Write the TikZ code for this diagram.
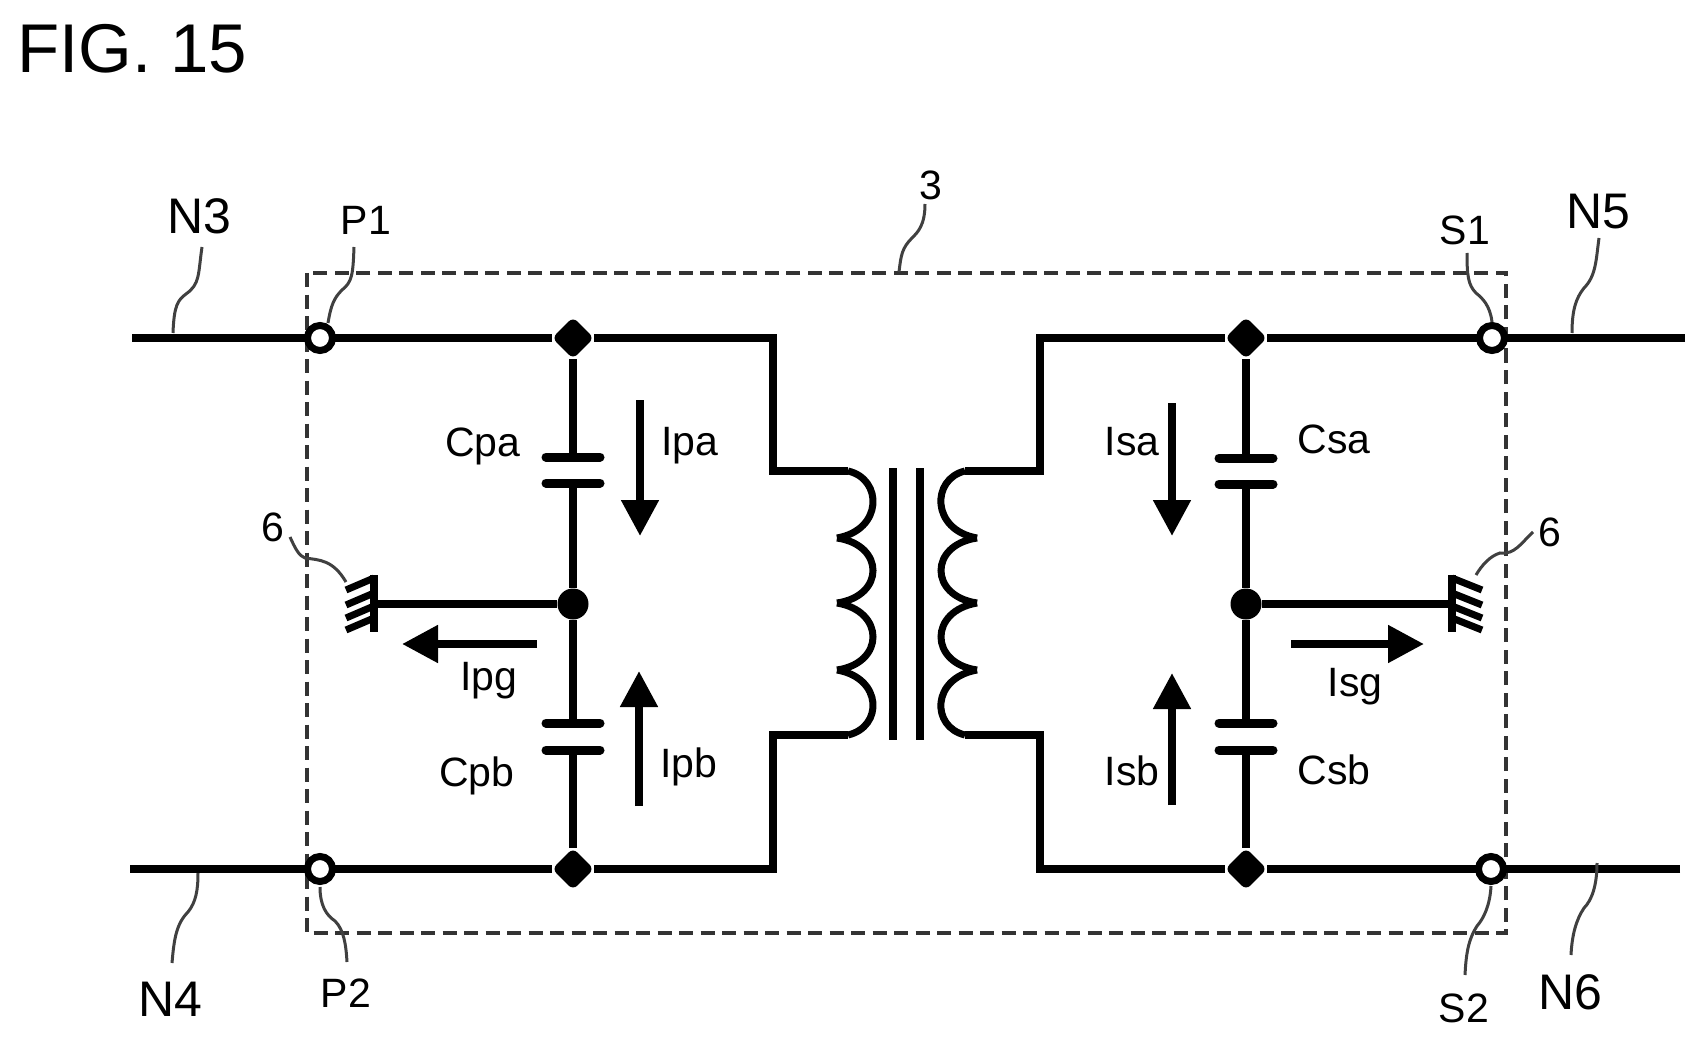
\documentclass[tikz,border=0pt]{standalone}
\usepackage{fontspec}
\setmainfont{Liberation Sans}
\usetikzlibrary{calc,arrows.meta,shapes.geometric}

\tikzset{
  wire/.style = {line width=8pt, line join=miter},
  plate/.style = {line width=9pt, line cap=round},
  coil/.style = {line width=7pt},
  core/.style = {line width=8pt},
  hatch/.style = {line width=7pt},
  frame/.style = {line width=3.5pt, dash pattern=on 14pt off 7.5pt, black!80},
  leader/.style = {line width=3pt, black!75},
  current/.style = {line width=8pt, -{Triangle[length=36pt,width=36pt]}},
  port/.style = {draw, circle, fill=white, line width=7pt, minimum size=25pt, inner sep=0pt},
  joint/.style = {draw=none, diamond, fill=black, minimum size=42pt, inner sep=0pt, rounded corners=6pt},
  midjoint/.style = {draw=none, circle, fill=black, minimum size=31pt, inner sep=0pt},
  lab/.style = {font=\fontsize{41}{41}\selectfont, inner sep=0pt, anchor=base},
  bigger/.style = {font=\fontsize{50}{50}\selectfont, inner sep=0pt, anchor=base},
}

\begin{document}
\begin{tikzpicture}[x=1pt, y=-1pt]
  \useasboundingbox [fill=white] (0,0) rectangle (1706,1043);

  % box around the transformer part
  \draw [frame] (307,273) rectangle (1506,933);

  % ends of the lines
  \coordinate (n3) at (132,338);
  \coordinate (n4) at (130,869);
  \coordinate (n5) at (1685,338);
  \coordinate (n6) at (1680,869);

  \node [joint] (ta) at (573,338) {};
  \node [joint] (tb) at (573,869) {};
  \node [joint] (ua) at (1246,338) {};
  \node [joint] (ub) at (1246,869) {};
  \node [midjoint] (tm) at (573,604) {};
  \node [midjoint] (um) at (1246,604) {};

  % primary side
  \coordinate (pa1) at (573,457);
  \coordinate (pa2) at (573,483);
  \coordinate (pb1) at (573,723);
  \coordinate (pb2) at (573,750);
  \draw [wire] (n3) -- (ta) -- (773,338) -- (773,471) -- (848,471);
  \draw [wire] (n4) -- (tb) -- (773,869) -- (773,735) -- (848,735);
  \draw [wire] (ta) -- (pa1);
  \draw [wire] (pa2) -- (tm) -- (pb1);
  \draw [wire] (pb2) -- (tb);

  % secondary side
  \coordinate (sa1) at (1246,458);
  \coordinate (sa2) at (1246,484);
  \coordinate (sb1) at (1246,723);
  \coordinate (sb2) at (1246,750);
  \draw [wire] (n5) -- (ua) -- (1040,338) -- (1040,471) -- (965,471);
  \draw [wire] (n6) -- (ub) -- (1040,869) -- (1040,735) -- (965,735);
  \draw [wire] (ua) -- (sa1);
  \draw [wire] (sa2) -- (um) -- (sb1);
  \draw [wire] (sb2) -- (ub);

  \foreach \n in {pa1, pa2, pb1, pb2, sa1, sa2, sb1, sb2}
           {
             \draw [plate] ($(\n) + (-27,0)$) -- ($(\n) + (27,0)$);
           }

  \node [port] (p1) at (320,338) {};
  \node [port] (p2) at (320,869) {};
  \node [port] (s1) at (1492,338) {};
  \node [port] (s2) at (1491,869) {};

  % transformer
  \draw [core] (893,468) -- (893,740);
  \draw [core] (920,468) -- (920,740);
  \draw [coil] (848,471) .. controls (883,479) and (883,530) .. (837,538);
  \draw [coil] (837,538) .. controls (885,545) and (885,596) .. (837,603);
  \draw [coil] (837,603) .. controls (885,611) and (885,663) .. (837,670);
  \draw [coil] (837,670) .. controls (883,678) and (883,727) .. (848,735);
  \draw [coil] (965,471) .. controls (931,479) and (931,530) .. (977,538);
  \draw [coil] (977,538) .. controls (929,545) and (929,596) .. (977,603);
  \draw [coil] (977,603) .. controls (929,611) and (929,663) .. (977,670);
  \draw [coil] (977,670) .. controls (931,678) and (931,727) .. (965,735);

  % ground
  \coordinate (gl) at (374,604);
  \coordinate (gr) at (1452,604);
  \draw [wire] (tm) -- (gl);
  \draw [wire] (um) -- (gr);
  \draw [wire] ($(gl) + (0,-29)$) -- ($(gl) + (0,28)$);
  \draw [wire] ($(gr) + (0,-29)$) -- ($(gr) + (0,28)$);
  \foreach \y in {-26,-11,2,14}
           {
             \draw [hatch] ($(gl) + (0,\y)$) -- ($(gl) + (-28,\y+12)$);
             \draw [hatch] ($(gr) + (0,\y)$) -- ($(gr) + (30,\y+12)$);
           }

  % currents
  \draw [current] (640,400) -- (640,536);
  \draw [current] (639,806) -- (639,671);
  \draw [current] (1172,403) -- (1172,536);
  \draw [current] (1172,805) -- (1172,673);
  \draw [current] (537,644) -- (402,644);
  \draw [current] (1291,644) -- (1424,644);

  % leader lines
  \draw [leader] (173,333) .. controls (174,305) and (178,300) .. (186,294) .. controls (200,284) and (198,275) .. (202,247);
  \draw [leader] (328,323) .. controls (331,305) and (334,298) .. (342,290) .. controls (352,282) and (353,275) .. (354,247);
  \draw [leader] (925,204) .. controls (925,225) and (918,232) .. (912,238) .. controls (902,248) and (901,255) .. (899,272);
  \draw [leader] (1492,322) .. controls (1490,305) and (1482,298) .. (1476,293) .. controls (1468,285) and (1467,275) .. (1467,253);
  \draw [leader] (1572,333) .. controls (1572,310) and (1576,298) .. (1584,288) .. controls (1596,276) and (1596,260) .. (1599,238);
  \draw [leader] (198,873) .. controls (198,890) and (196,902) .. (188,912) .. controls (176,924) and (174,940) .. (172,963);
  \draw [leader] (320,887) .. controls (320,905) and (326,915) .. (335,921) .. controls (344,930) and (346,945) .. (347,962);
  \draw [leader] (1597,863) .. controls (1597,885) and (1592,900) .. (1584,908) .. controls (1576,920) and (1572,935) .. (1571,955);
  \draw [leader] (1491,886) .. controls (1490,905) and (1484,918) .. (1477,926) .. controls (1468,940) and (1466,955) .. (1465,975);
  \draw [leader] (290,537) .. controls (295,548) and (299,556) .. (305,558) .. controls (320,560) and (333,560) .. (346,582);
  \draw [leader] (1476,575) .. controls (1482,565) and (1490,556) .. (1500,553) .. controls (1515,555) and (1522,542) .. (1533,532);

  % labels
  \node [font=\fontsize{69}{69}\selectfont, inner sep=0pt, anchor=base west] (fig) at (17,73) {FIG. 15};
  \node [bigger] (ln3) at (199,234) {N3};
  \node [lab] (lp1) at (366,235) {P1};
  \node [lab] (l3) at (931,200) {3};
  \node [lab] (ls1) at (1465,244) {S1};
  \node [bigger] (ln5) at (1598,229) {N5};
  \node [lab] (lcpa) at (483,456) {Cpa};
  \node [lab] (lipa) at (690,455) {Ipa};
  \node [lab] (lisa) at (1132,455) {Isa};
  \node [lab] (lcsa) at (1334,453) {Csa};
  \node [lab] (l6a) at (273,541) {6};
  \node [lab] (l6b) at (1550,546) {6};
  \node [lab] (lipg) at (489,690) {Ipg};
  \node [lab] (lisg) at (1355,696) {Isg};
  \node [lab] (lcpb) at (477,786) {Cpb};
  \node [lab] (lipb) at (689,777) {Ipb};
  \node [lab] (lisb) at (1132,785) {Isb};
  \node [lab] (lcsb) at (1334,784) {Csb};
  \node [bigger] (ln4) at (170,1016) {N4};
  \node [lab] (lp2) at (346,1007) {P2};
  \node [lab] (ls2) at (1464,1022) {S2};
  \node [bigger] (ln6) at (1570,1009) {N6};
\end{tikzpicture}
\end{document}
